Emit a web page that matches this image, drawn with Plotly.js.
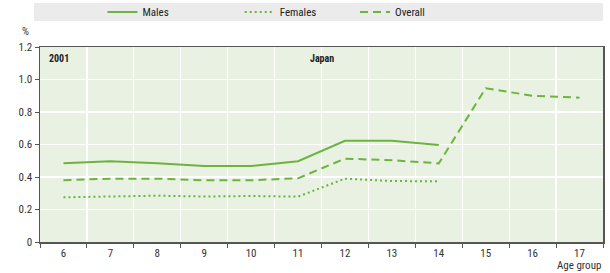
<!DOCTYPE html>
<html><head><meta charset="utf-8">
<script src="https://cdn.plot.ly/plotly-3.0.1.min.js"></script>
<style>html,body{margin:0;padding:0;background:#fff}#c{width:610px;height:273px}</style>
</head><body><div id="c"></div>
<script>
const ageGroups = ['6','7','8','9','10','11','12','13','14','15','16','17'];
const males   = [0.484,0.497,0.485,0.468,0.468,0.497,0.623,0.623,0.597,null,null,null];
const females = [0.275,0.280,0.285,0.280,0.283,0.279,0.390,0.375,0.374,null,null,null];
const overall = [0.380,0.390,0.390,0.380,0.380,0.392,0.513,0.503,0.484,0.946,0.900,0.888];
const yTicks = [0,0.2,0.4,0.6,0.8,1.0,1.2];
const yTickText = ['0','0.2','0.4','0.6','0.8','1.0','1.2'];

const green = '#6cb33f';
const font = 'Liberation Sans Narrow, Arial Narrow, Roboto Condensed, Liberation Sans, sans-serif';

const traces = [
  {x: ageGroups, y: males, name: 'Males', mode: 'lines', line: {color: green, width: 2}, legend: 'legend'},
  {x: ageGroups, y: females, name: 'Females', mode: 'lines', line: {color: green, width: 2, dash: '2px,3px'}, legend: 'legend2'},
  {x: ageGroups, y: overall, name: 'Overall', mode: 'lines', line: {color: green, width: 2, dash: '8px,5px'}, legend: 'legend3'}
];

const legBase = {orientation: 'h', bgcolor: 'rgba(0,0,0,0)', font: {family: font, size: 11, color: '#222'},
  xref: 'container', yref: 'container', xanchor: 'left', yanchor: 'middle', y: 0.956, itemwidth: 30, tracegroupgap: 0};

const layout = {
  width: 610, height: 273,
  margin: {l: 40, r: 7, t: 47, b: 31},
  paper_bgcolor: '#fff', plot_bgcolor: '#e9f1e2',
  font: {family: font, size: 11, color: '#333'},
  showlegend: true,
  legend: Object.assign({}, legBase, {x: 0.168}),
  legend2: Object.assign({}, legBase, {x: 0.393}),
  legend3: Object.assign({}, legBase, {x: 0.582}),
  xaxis: {type: 'category', range: [-0.5, 11.5], tickson: 'boundaries', ticks: 'outside', ticklen: 4,
    tickcolor: '#555', showgrid: true, gridcolor: '#ffffff', gridwidth: 1.3, showline: true, linecolor: '#555',
    linewidth: 1.5, mirror: true, tickfont: {family: font, size: 11, color: '#333'}, fixedrange: true, automargin: false},
  yaxis: {range: [0, 1.2], tickvals: yTicks, ticktext: yTickText, ticks: 'outside', ticklen: 4, tickcolor: '#555',
    showgrid: true, gridcolor: '#ffffff', gridwidth: 1.3, showline: true, linecolor: '#555', linewidth: 1.5,
    mirror: true, zeroline: false, tickfont: {family: font, size: 11, color: '#333'}, fixedrange: true, automargin: false},
  shapes: [
    {type: 'rect', xref: 'paper', yref: 'paper', x0: -0.0107, x1: 1.0, y0: 1.133, y1: 1.226, fillcolor: '#ebebeb', line: {width: 0}, layer: 'below'}
  ],
  annotations: [
    {text: '<b>2001</b>', xref: 'paper', yref: 'paper', x: 0.013, y: 0.94, xanchor: 'left', yanchor: 'middle', showarrow: false, font: {family: font, size: 10, color: '#222'}},
    {text: '<b>Japan</b>', xref: 'paper', yref: 'paper', x: 0.5, y: 0.94, xanchor: 'center', yanchor: 'middle', showarrow: false, font: {family: font, size: 10, color: '#222'}},
    {text: '%', xref: 'paper', yref: 'paper', x: -0.016, y: 1.077, xanchor: 'right', yanchor: 'middle', showarrow: false, font: {family: font, size: 11, color: '#333'}},
    {text: 'Age group', xref: 'paper', yref: 'paper', x: 1.0, y: -0.118, xanchor: 'right', yanchor: 'middle', showarrow: false, font: {family: font, size: 11, color: '#333'}}
  ]
};

Plotly.newPlot('c', traces, layout, {displayModeBar: false, staticPlot: true});
</script></body></html>
